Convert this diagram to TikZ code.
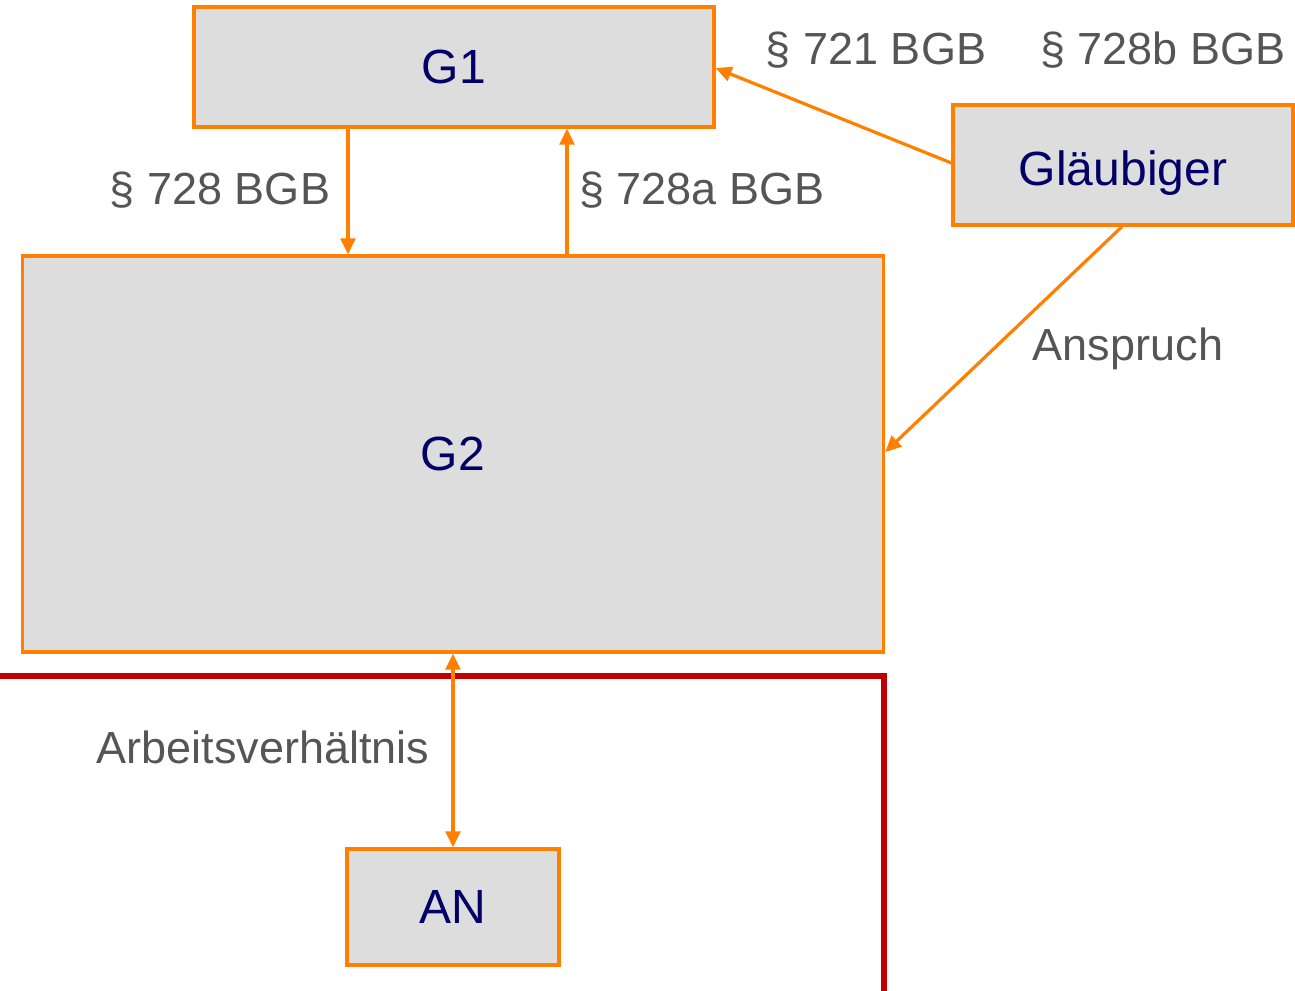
\documentclass[tikz,border=0pt]{standalone}
\usepackage{fontspec}
\setmainfont{Liberation Sans}
\usetikzlibrary{arrows.meta}
\definecolor{orng}{HTML}{FF8000}
\definecolor{boxgray}{HTML}{DDDDDD}
\definecolor{navy}{HTML}{000066}
\definecolor{lblgray}{HTML}{555555}
\definecolor{redline}{HTML}{C00000}
\begin{document}
\begin{tikzpicture}[x=0.75pt,y=-0.75pt,
  party/.style={draw=orng,fill=boxgray,line width=2.4pt,text=navy,inner sep=0pt,
    font=\fontsize{36}{42}\selectfont},
  conn/.style={draw=orng,line width=2.4pt,-{Triangle[length=12pt,width=11pt]}},
  lbl/.style={text=lblgray,font=\fontsize{33.75}{40}\selectfont,inner sep=0pt}]
\useasboundingbox (0,0) rectangle (1295,990);
\draw[redline,line width=4.5pt] (0,676) -- (884,676) -- (884,995);
\node[party,minimum width=390pt,minimum height=90pt] (g1) at (454,67) {G1};
\node[party,minimum width=255pt,minimum height=90pt] (gl) at (1123,165) {\raisebox{-15pt}[0pt][0pt]{Gläubiger}};
\node[party,minimum width=646pt,minimum height=297pt] (g2) at (453,454) {G2};
\node[party,minimum width=159pt,minimum height=87pt] (an) at (453,907) {AN};
\draw[conn] (g1.south -| 348,0) -- (g2.north -| 348,0);
\draw[conn] (g2.north -| 567,0) -- (g1.south -| 567,0);
\draw[conn] (gl.west |- 0,163) -- (g1.east |- 0,68);
\draw[conn] (gl.south -| 1122,0) -- (g2.east |- 0,452);
\draw[conn,{Triangle[length=12pt,width=11pt]}-{Triangle[length=12pt,width=11pt]}] (g2.south) -- (an.north);
\node[lbl] (l721) at (876,50) {§ 721 BGB};
\node[lbl] (l728b) at (1163,50) {§ 728b BGB};
\node[lbl] (l728) at (220,190) {§ 728 BGB};
\node[lbl] (l728a) at (702,190) {§ 728a BGB};
\node[lbl] (lan) at (1128,349) {Anspruch};
\node[lbl] (lav) at (263,747) {Arbeitsverhältnis};
\end{tikzpicture}
\end{document}
